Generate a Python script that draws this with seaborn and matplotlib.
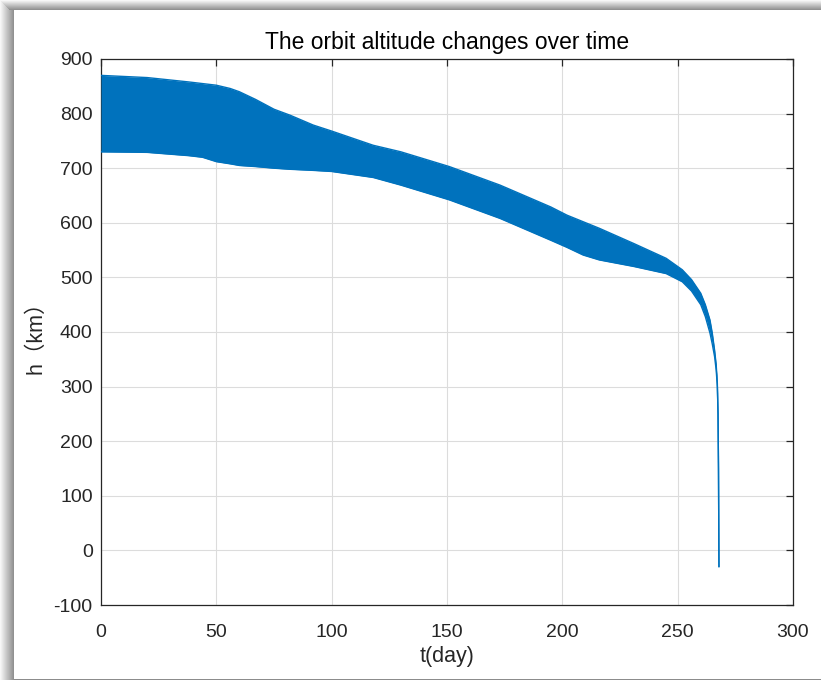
import matplotlib
matplotlib.use("Agg")
import matplotlib.pyplot as plt
from matplotlib.patches import Rectangle
import seaborn as sns
import pandas as pd

# ---- data ----
t_day = [0, 20, 38, 44, 50, 56, 60, 67, 75, 82, 92, 100, 118, 130, 151, 173,
         195, 202, 209, 216, 231, 245, 252, 256, 260, 262, 264, 265, 266,
         266.7, 267.2, 267.5, 267.7, 267.9]
h_upper = [870, 866, 858, 855, 852, 846, 840, 826, 808, 797, 779, 768, 742, 730,
           703, 669, 629, 614, 602, 590, 562, 535, 514, 496, 471, 450, 422, 398,
           367, 340, 306, 250, 150, -30]
h_lower = [730, 729, 723, 720, 712, 708, 705, 703, 700, 698, 696, 694, 683, 669,
           642, 608, 568, 555, 541, 532, 520, 507, 492, 475, 450, 428, 398, 378,
           355, 330, 300, 250, 150, -30]
x_ticks = [0, 50, 100, 150, 200, 250, 300]
y_ticks = [-100, 0, 100, 200, 300, 400, 500, 600, 700, 800, 900]

title = "The orbit altitude changes over time"
xlabel = "t(day)"
ylabel = "h（km）"

df = pd.DataFrame({"t": t_day, "upper": h_upper, "lower": h_lower})

sns.set_theme(style="white")
plt.rcParams["font.family"] = ["Liberation Sans", "Noto Sans CJK SC", "DejaVu Sans"]
plt.rcParams["axes.unicode_minus"] = False

BLUE = "#0072BD"
DARK = "#262626"

fig = plt.figure(figsize=(8.21, 6.80), dpi=100, facecolor="white")

# screenshot-like shadow frame
W, H = 821, 680
for i in range(14):
    g = 0.97 - 0.40 * (i / 13.0)
    fig.add_artist(Rectangle((i / W, 0), 1 / W, 1, transform=fig.transFigure,
                             facecolor=str(g), edgecolor="none", zorder=-10))
for j in range(10):
    g = 0.97 - 0.40 * (j / 9.0)
    fig.add_artist(Rectangle((min(j, 13) / W, 1 - (j + 1) / H), 1, 1 / H,
                             transform=fig.transFigure,
                             facecolor=str(g), edgecolor="none", zorder=-9))
fig.add_artist(Rectangle((14 / W, 0), 1, 1.5 / H, transform=fig.transFigure,
                         facecolor="#8c8c8c", edgecolor="none", zorder=-8))

ax = fig.add_axes([101 / W, 1 - 605 / H, (793 - 101) / W, (605 - 59) / H])
ax.set_facecolor("white")

ax.fill_between(df["t"], df["lower"], df["upper"], color=BLUE, linewidth=0, zorder=3)
sns.lineplot(data=df, x="t", y="upper", ax=ax, color=BLUE, linewidth=1.0,
             sort=False, zorder=4)
sns.lineplot(data=df, x="t", y="lower", ax=ax, color=BLUE, linewidth=1.0,
             sort=False, zorder=4)

ax.set_xlim(0, 300)
ax.set_ylim(-100, 900)
ax.set_xticks(x_ticks)
ax.set_yticks(y_ticks)
ax.grid(True, color="#dcdcdc", linewidth=0.8, zorder=0)
ax.set_axisbelow(True)

for s in ax.spines.values():
    s.set_color(DARK)
    s.set_linewidth(0.9)
    s.set_visible(True)

ax.tick_params(direction="in", length=5, width=0.9, color=DARK,
               top=True, right=True, labelsize=14, labelcolor=DARK)
ax.tick_params(axis="x", pad=14)
ax.tick_params(axis="y", pad=6)

ax.set_title(title, fontsize=16.5, color="black", pad=7)
ax.set_xlabel(xlabel, fontsize=15.5, color=DARK, labelpad=3)
ax.set_ylabel(ylabel, fontsize=15.5, color=DARK, labelpad=5)

fig.savefig("out.png", dpi=100, facecolor="white")
